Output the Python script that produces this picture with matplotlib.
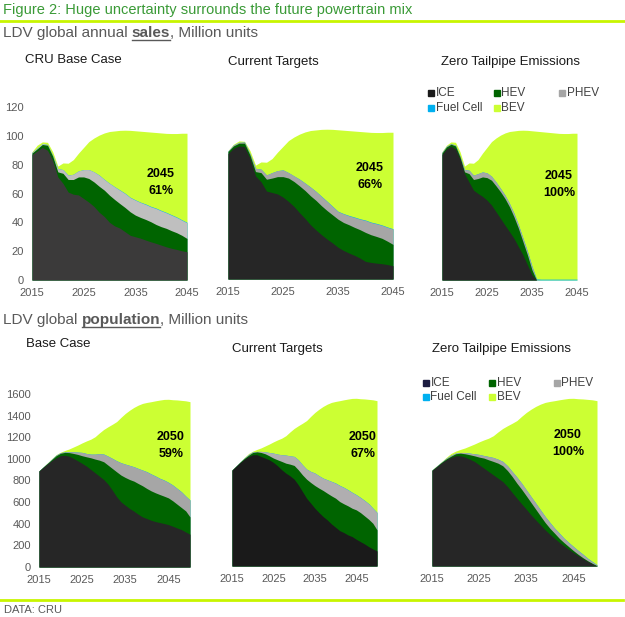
import numpy as np
import matplotlib
matplotlib.use("Agg")
import matplotlib.pyplot as plt
from matplotlib.patches import Rectangle

plt.rcParams['font.family'] = ['Liberation Sans', 'DejaVu Sans']

W, H = 625, 617

# ---- data: sales (Million units), 2015-2045 ----
years_sales = list(range(2015, 2046))
sales_total = [89, 93.5, 95.8, 95.5, 89, 79, 81.2, 81, 83.5, 88, 92, 96, 98.5, 100.5, 102, 103,
               103.4, 103.8, 103.9, 103.8, 103.5, 103.2, 102.9, 102.6, 102.3, 102, 101.7, 101.6,
               101.6, 101.8, 101.8]

# stack tops: ICE, ICE+HEV, ICE+HEV+PHEV
sales_base_ice = [87, 89.5, 92, 90, 83, 71.5, 67, 61, 59.5, 59, 56.5, 54, 51, 47, 44, 40, 37.5, 36,
                  33.5, 31, 30, 29, 27.7, 26.5, 25.4, 24.2, 23, 22, 21.2, 20.3, 19.6]
sales_base_hev = [88, 91, 94, 93.5, 86, 75, 74, 69.7, 69.7, 71.5, 71.5, 70.4, 68, 65, 62.3, 58.8,
                  55.8, 53, 50.3, 47.3, 45, 43.4, 42, 40.4, 38.5, 37, 35.8, 34.2, 32.8, 31, 28.8]
sales_base_phev = [88.6, 91.6, 94.6, 94, 86.5, 77.3, 76.6, 72.7, 73.4, 75.7, 76.6, 76.6, 75, 72.7,
                   69.7, 67, 64.6, 62.3, 60, 57.2, 55.4, 53.8, 52.4, 50.8, 49.6, 48, 46.6, 45,
                   43.4, 41.5, 39.7]
sales_base_fc = [0, 0, 0, 0, 0, 0, 0, 0, 0, 0, 0, 0, 0, 0.1, 0.1, 0.1, 0.1, 0.2, 0.2, 0.2,
                 0.2, 0.2, 0.3, 0.3, 0.3, 0.3, 0.3, 0.3, 0.3, 0.3, 0.3]

sales_tgt_ice = [87, 90.7, 92.3, 91.8, 83.8, 71.5, 67.5, 61, 60, 59, 56.8, 53.8, 50.3, 46, 42,
                 37.6, 34, 30.7, 27.7, 25, 22, 19.8, 18, 16.4, 14.5, 12.2, 11.5, 11, 10.6, 10, 9.2]
sales_tgt_hev = [88.4, 92.3, 94.2, 94.2, 86, 74.5, 73.8, 69.2, 70, 71, 71, 70, 67.6, 64.6, 61.4,
                 57.7, 54.5, 50.8, 47.5, 44.5, 41.5, 39.2, 37.6, 35.8, 34.2, 32.3, 30.7, 29.5,
                 28.2, 26.2, 24]
sales_tgt_phev = [88.8, 93, 94.8, 95, 86.8, 76.8, 76.2, 72.2, 73.8, 75.2, 75.7, 73.8, 71.5, 69.2,
                  66.5, 63.7, 60.7, 57.2, 53.8, 50.3, 46.8, 45.2, 43.8, 42.7, 41.5, 40.6, 39.2,
                  38.3, 37.2, 35.8, 34.6]
sales_tgt_fc = sales_base_fc

sales_zero_ice = [87, 91, 92.8, 91, 84, 73.8, 68, 62.3, 60, 58, 55.4, 52, 47.3, 42.7, 38, 33.5,
                  28.8, 23, 17.3, 10.4, 3.5, 0, 0, 0, 0, 0, 0, 0, 0, 0, 0]
sales_zero_hev = [88, 92.3, 94.2, 93, 85.4, 75, 73.8, 69.7, 70.4, 71.5, 71, 69.2, 65.3, 61.2, 56.5,
                  50.8, 43.8, 35.8, 26.5, 17.3, 7, 0, 0, 0, 0, 0, 0, 0, 0, 0, 0]
sales_zero_phev = [88.6, 92.8, 94.6, 93.5, 86, 76.6, 76.2, 72.7, 73.8, 75, 74.3, 72, 68, 63.5,
                   58.8, 53, 46.2, 38, 28.8, 19.6, 9.2, 0.3, 0, 0, 0, 0, 0, 0, 0, 0, 0]
sales_zero_fc = [0, 0, 0, 0, 0, 0, 0, 0, 0, 0, 0, 0, 0, 0.1, 0.1, 0.1, 0.1, 0.2, 0.2, 0.3,
                 0.4, 0.5, 0.6, 0.6, 0.6, 0.6, 0.6, 0.6, 0.6, 0.6, 0.6]

# ---- data: population (Million units), 2015-2050 ----
years_pop = list(range(2015, 2051))
pop_total = [890, 927, 964, 1004, 1040, 1062, 1078, 1092, 1110, 1128, 1148, 1166, 1182, 1205, 1240,
             1272, 1297, 1320, 1345, 1384, 1420, 1450, 1476, 1497, 1513, 1522, 1529, 1537, 1544,
             1550, 1551, 1547, 1545, 1541, 1537, 1529]

pop_base_ice = [888, 922, 955, 985, 1010, 1030, 1033, 1025, 1004, 982, 958, 933, 902, 871, 840, 809,
                766, 710, 649, 602, 571, 541, 516, 488, 463, 448, 432, 420, 411, 402, 392, 377,
                361, 346, 324, 303]
pop_base_hev = [889, 925, 960, 995, 1030, 1052, 1060, 1058, 1050, 1041, 1029, 1019, 1010, 998, 988,
                973, 942, 911, 880, 850, 828, 809, 794, 772, 751, 726, 704, 686, 670, 655, 639,
                612, 581, 550, 519, 463]
pop_base_phev = [889.5, 926, 962, 1000, 1036, 1058, 1065, 1066, 1066, 1063, 1060, 1050, 1044, 1044,
                 1048, 1044, 1025, 1004, 982, 964, 951, 939, 927, 911, 896, 880, 859, 840, 819,
                 803, 782, 757, 726, 695, 655, 618]

pop_tgt_ice = [886, 922, 958, 988, 1013, 1029, 1029, 1013, 998, 982, 958, 927, 890, 859, 834, 803,
               751, 689, 627, 581, 534, 494, 457, 426, 389, 358, 327, 309, 287, 272, 247, 225,
               204, 179, 158, 139]
pop_tgt_hev = [888, 925, 962, 996, 1025, 1050, 1056, 1050, 1038, 1019, 998, 982, 967, 951, 942, 930,
               890, 843, 803, 772, 744, 720, 698, 673, 649, 627, 596, 575, 556, 534, 519, 494,
               463, 432, 395, 334]
pop_tgt_phev = [889, 926, 963, 1000, 1032, 1056, 1060, 1060, 1056, 1050, 1044, 1035, 1029, 1026,
                1019, 1013, 982, 936, 896, 874, 859, 834, 812, 797, 782, 766, 744, 726, 704, 680,
                658, 633, 605, 575, 534, 494]

pop_zero_ice = [884, 918, 953, 982, 1004, 1019, 1019, 1007, 988, 967, 936, 905, 874, 843, 812, 781,
                735, 680, 627, 575, 525, 473, 426, 380, 334, 293, 256, 219, 185, 154, 124, 96, 68,
                43, 19, 0]
pop_zero_hev = [886, 922, 958, 990, 1015, 1038, 1044, 1038, 1029, 1019, 1007, 998, 982, 967, 951,
                927, 883, 828, 766, 710, 649, 587, 525, 463, 402, 349, 303, 256, 216, 179, 142,
                108, 77, 49, 25, 3]
pop_zero_phev = [888, 925, 961, 996, 1025, 1044, 1050, 1050, 1044, 1038, 1032, 1022, 1013, 1004,
                 988, 967, 927, 874, 822, 766, 704, 642, 581, 519, 457, 402, 349, 303, 256, 216,
                 179, 142, 108, 71, 40, 9]
pop_fc = [0] * 15 + [1] * 10 + [2] * 11

labels_sales = ['2045\n61%', '2045\n66%', '2045\n100%']
labels_pop = ['2050\n59%', '2050\n67%', '2050\n100%']

# ---- colours ----
c_hev = '#006400'
c_fc = '#00b0f0'
c_bev = '#ccff33'
c_line = '#c8f500'
c_grey = '#595959'
c_green = '#3a9a36'

fig = plt.figure(figsize=(W / 100, H / 100), dpi=100)


def fx(px):
    return px / W


def fy(py):
    return 1 - py / H


def panel(box, years, total, ice, hev, phev, fc, ice_col, phev_col, ylim, yticks, show_y, label, lab_xy):
    left, right, base, h_px = box
    ax = fig.add_axes([fx(left), fy(base), fx(right - left), h_px / H])
    x = np.array(years)
    phev = np.array(phev, float)
    fc_top = phev + np.array(fc, float)
    total = np.maximum(np.array(total, float), fc_top)
    # draw each cumulative area from zero, back to front (no seams between layers)
    for top, col in [(total, c_bev), (fc_top, c_fc), (phev, phev_col), (hev, c_hev), (ice, ice_col)]:
        ax.fill_between(x, 0, top, color=col, lw=0)
    ax.set_xlim(years[0], years[-1])
    ax.set_ylim(*ylim)
    ax.set_xticks([2015, 2025, 2035, 2045])
    ax.set_yticks(yticks)
    for s in ax.spines.values():
        s.set_visible(False)
    ax.tick_params(length=0, labelsize=8, labelcolor=c_grey, pad=6)
    if not show_y:
        ax.set_yticklabels([])
    ax.patch.set_alpha(0)
    fig.text(fx(lab_xy[0]), fy(lab_xy[1]), label, ha='center', va='top', fontsize=9,
             fontweight='bold', linespacing=1.6)
    return ax


# scale: 120 units (or 1600) over 173 px
h_px = 173
panel((32, 187, 280, h_px), years_sales, sales_total, sales_base_ice, sales_base_hev,
      sales_base_phev, sales_base_fc, '#3b3a3a', '#bfbfbf', (0, 120), range(0, 121, 20), True,
      labels_sales[0], (161, 168))
panel((228, 393, 279, h_px), years_sales, sales_total, sales_tgt_ice, sales_tgt_hev,
      sales_tgt_phev, sales_tgt_fc, '#262626', '#a6a6a6', (0, 120), range(0, 121, 20), False,
      labels_sales[1], (370, 162))
panel((442, 577, 280, h_px), years_sales, sales_total, sales_zero_ice, sales_zero_hev,
      sales_zero_phev, sales_zero_fc, '#262626', '#a6a6a6', (0, 120), range(0, 121, 20), False,
      labels_sales[2], (559, 170))

panel((39, 190, 567, h_px), years_pop, pop_total, pop_base_ice, pop_base_hev, pop_base_phev,
      pop_fc, '#262626', '#a6a6a6', (0, 1600), range(0, 1601, 200), True, labels_pop[0], (171, 431))
panel((232, 377, 566, h_px), years_pop, pop_total, pop_tgt_ice, pop_tgt_hev, pop_tgt_phev,
      pop_fc, '#1a1a1a', '#b0aeb0', (0, 1600), range(0, 1601, 200), False, labels_pop[1], (363, 431))
panel((432, 597, 566, h_px), years_pop, pop_total, pop_zero_ice, pop_zero_hev, pop_zero_phev,
      pop_fc, '#262626', '#a6a6a6', (0, 1600), range(0, 1601, 200), False, labels_pop[2], (568, 429))

# ---- texts ----
renderer = fig.canvas.get_renderer()


def rich(x, y, parts, size):
    cur = x
    for s, strong in parts:
        t = fig.text(fx(cur), fy(y), s, fontsize=size, color=c_grey, va='baseline',
                     fontweight='bold' if strong else 'normal')
        bb = t.get_window_extent(renderer)
        if strong:
            fig.add_artist(plt.Line2D([fx(cur), fx(cur + bb.width)], [fy(y + 2.5)] * 2,
                                      color=c_grey, lw=1, transform=fig.transFigure))
        cur += bb.width


fig.text(fx(3), fy(14), 'Figure 2: Huge uncertainty surrounds the future powertrain mix',
         fontsize=10.5, color=c_green, va='baseline')
fig.add_artist(plt.Line2D([0, 1], [fy(20.5)] * 2, color=c_line, lw=2, transform=fig.transFigure))
rich(3, 37, [('LDV global annual ', False), ('sales', True), (', Million units', False)], 11)
rich(3, 324, [('LDV global ', False), ('population', True), (', Million units', False)], 11)

for txt, x, y in [('CRU Base Case', 25, 63), ('Current Targets', 228, 65),
                  ('Zero Tailpipe Emissions', 441, 65), ('Base Case', 26, 347),
                  ('Current Targets', 232, 352), ('Zero Tailpipe Emissions', 432, 352)]:
    fig.text(fx(x), fy(y), txt, fontsize=9.5, color='#1a1a1a', va='baseline')

fig.add_artist(plt.Line2D([0, 0.996], [fy(600)] * 2, color=c_line, lw=2, transform=fig.transFigure))
fig.text(fx(4), fy(613), 'DATA: CRU', fontsize=8, color=c_grey, va='baseline')


def legend(x0, rows, ice_col):
    entries = [[('ICE', ice_col), ('HEV', c_hev), ('PHEV', '#a6a6a6')],
               [('Fuel Cell', c_fc), ('BEV', c_bev)]]
    cols = [x0, x0 + 66, x0 + 131]
    for r, row in enumerate(entries):
        y = rows[r]
        for c, (name, col) in enumerate(row):
            fig.add_artist(Rectangle((fx(cols[c]), fy(y)), fx(6), 6 / H, color=col,
                                     transform=fig.transFigure))
            fig.text(fx(cols[c] + 7.5), fy(y), name, fontsize=8.5, color='#404040', va='baseline')


legend(428, [96, 111], '#1a1a1a')
legend(423, [386, 400], '#1c1c40')

fig.savefig('out.png', dpi=100)
